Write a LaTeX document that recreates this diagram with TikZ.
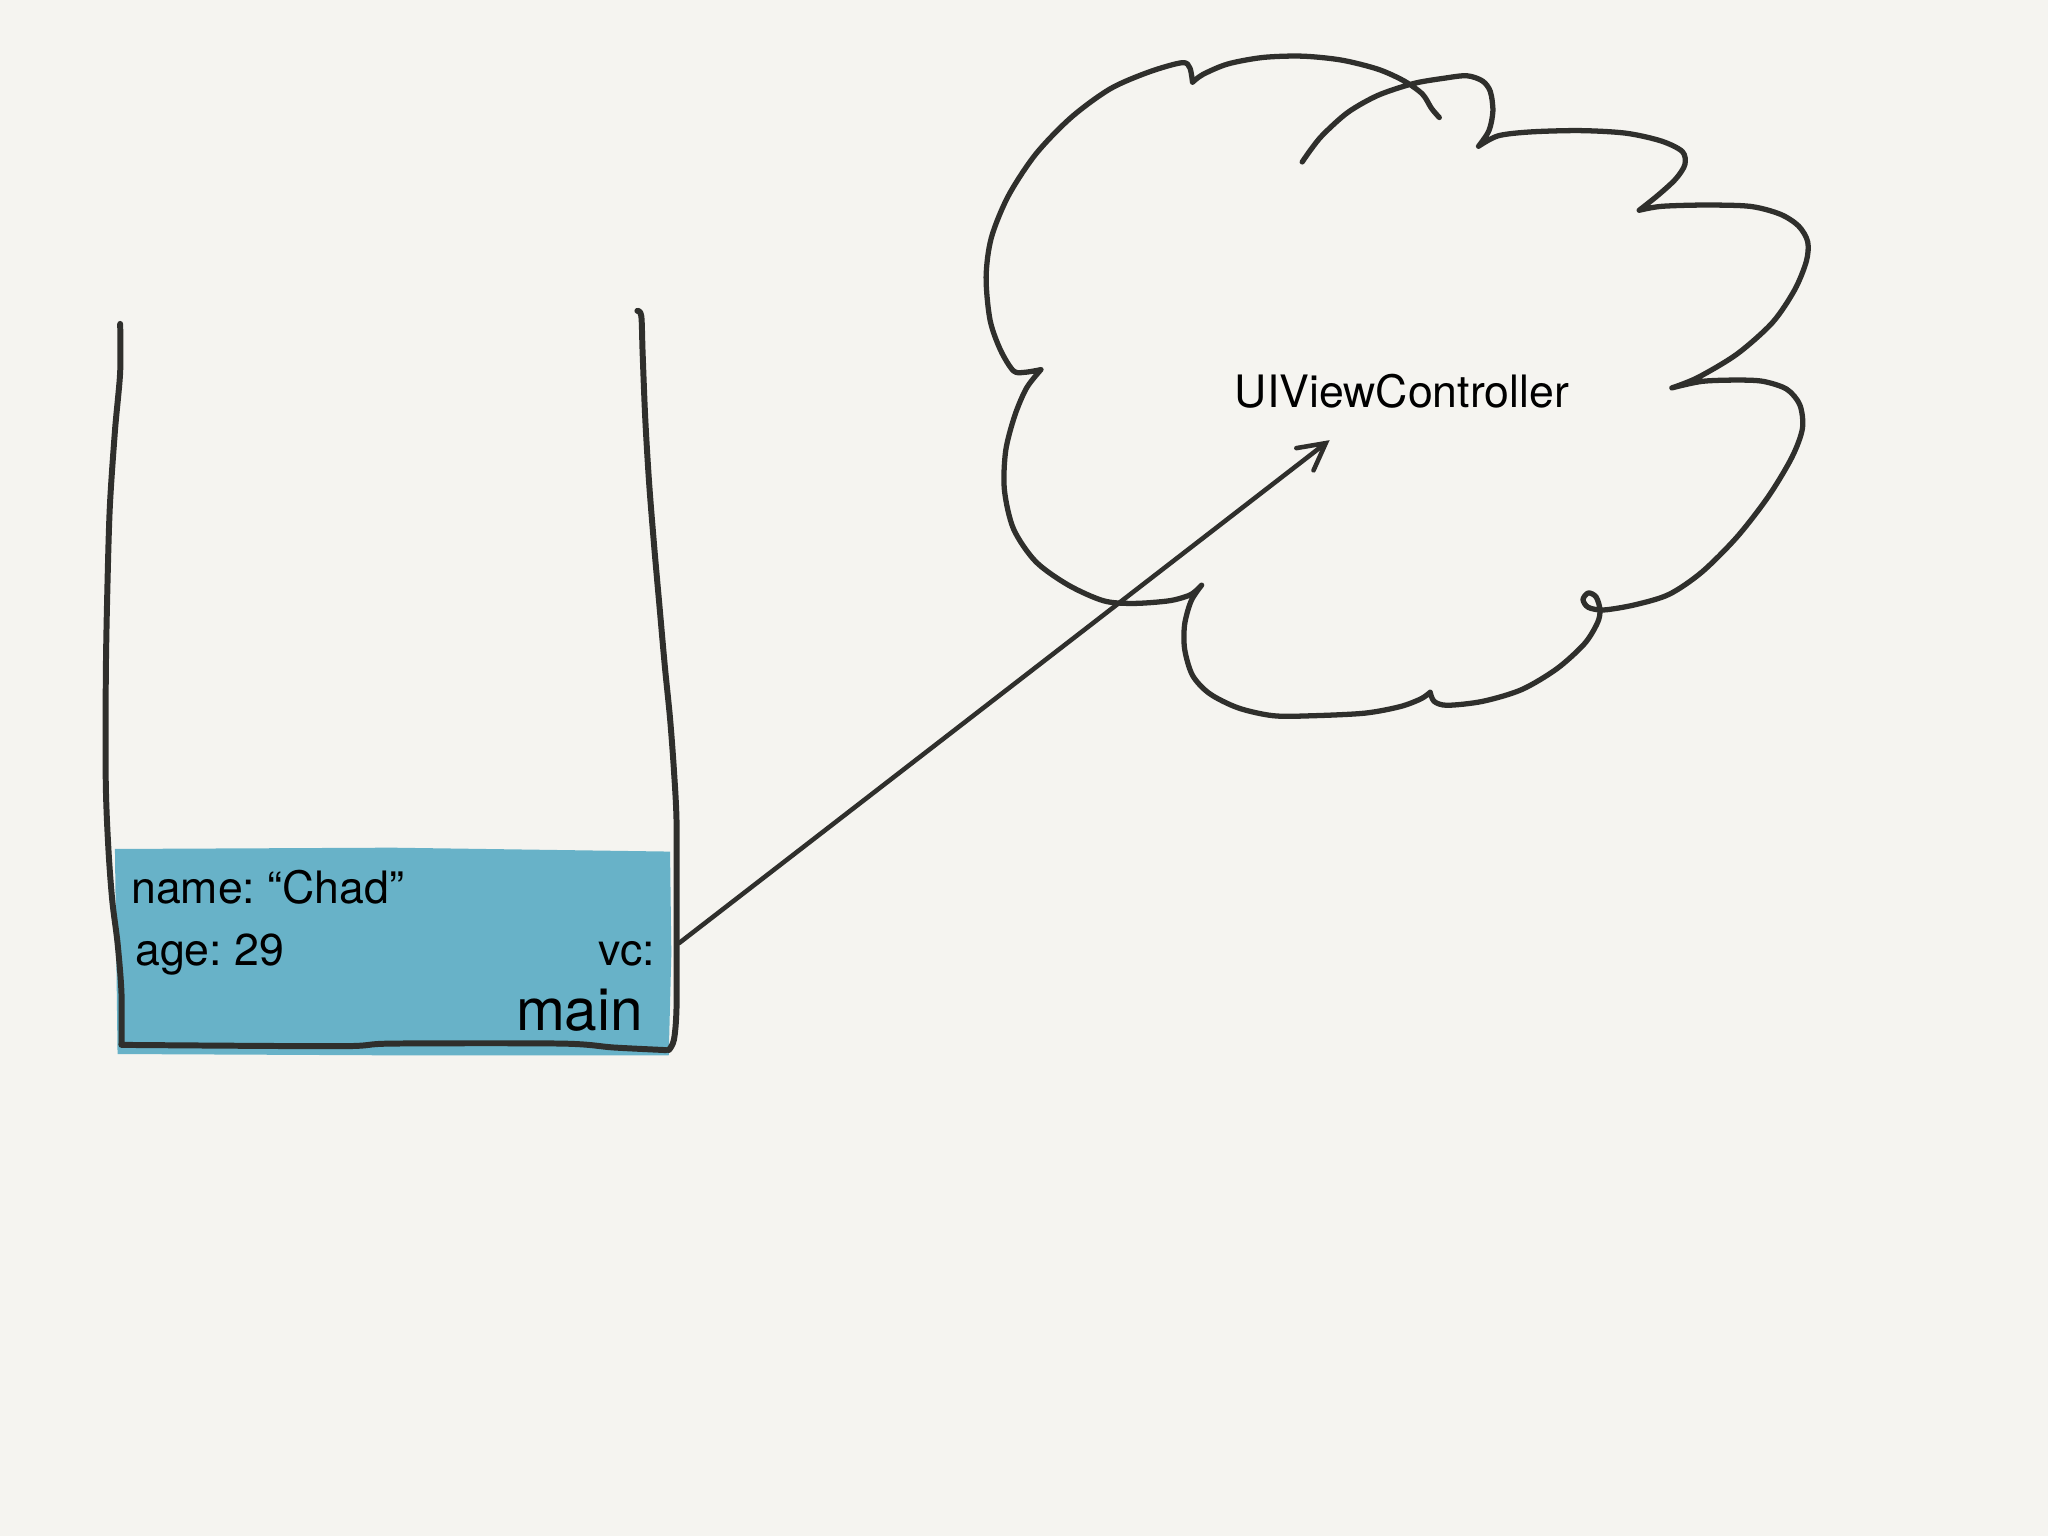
\documentclass[tikz,border=0pt]{standalone}
\usepackage{fontspec}
\setmainfont{TeX Gyre Heros}
\frenchspacing
\usetikzlibrary{arrows.meta}
\definecolor{paper}{HTML}{F5F4F0}
\definecolor{slot}{HTML}{68B2C8}
\definecolor{ink}{HTML}{2F2F2C}
\begin{document}
\begin{tikzpicture}[x=0.013061cm, y=-0.013061cm,
  wall/.style={draw=ink, line width=1.7pt, line cap=round, line join=round},
  puff/.style={draw=ink, line width=1.5pt, line cap=round, line join=round},
  lbl/.style={inner sep=0pt, font=\fontsize{12.7}{15}\selectfont},
  ref/.style={draw=ink, line width=1.3pt, line cap=round, -{Straight Barb[length=7.5pt,width=8pt,line cap=round]}}]
    \fill[paper] (0,0) rectangle (1568,1176);
    \fill[slot] (88,650) -- (300,649) -- (513,652) -- (514,730) -- (512,808) -- (300,808) -- (90,807) -- cycle;

    \node[lbl, anchor=base west] (name) at (100,692) {name: “Chad”};
    \node[lbl, anchor=base west] (age) at (103,739) {age: 29};
    \node[lbl, anchor=base east] (vc) at (502,739) {vc:};
    \node[lbl, anchor=base east, font=\fontsize{16.7}{20}\selectfont] (main) at (493,789) {main};
    \node[lbl, anchor=base west] (cls) at (945,312) {UIViewController};
    \coordinate (vcptr) at (520,722);
    \coordinate (vcend) at (1018,337);

    \draw[wall] plot[smooth] coordinates {(92,248) (92,285) (88,330) (84,390) (82,460) (81,520) (81,600) (83,650) (86,690) (90,722) (93,760) (93,800)}
      plot[smooth] coordinates {(93,800) (260,801) (300,799) (430,799) (470,802) (510,804)};
    \draw[wall] plot[smooth] coordinates {(488,238) (491,242) (492,270) (494,320) (497,370) (501,420) (505,465) (509,510) (513,550) (516,590) (518,630) (518,700) (518,770) (516,796) (512,804)};

    \draw[puff] plot[smooth] coordinates {(913,63) (911,52) (905,48) (880,55) (850,68) (820,90) (793,118) (772,150) (759,182) (755,212) (758,245) (766,268) (776,284) (785,285) (797,283)}
      plot[smooth] coordinates {(797,283) (786,297) (777,318) (770,345) (769,375) (776,405) (793,430) (818,448) (845,460) (868,462) (895,460) (910,456) (916,452) (920,448)}
      plot[smooth] coordinates {(920,448) (912,460) (907,478) (907,497) (913,517) (926,531) (948,542) (975,548) (1005,548) (1045,546) (1072,541) (1088,535) (1095,530)}
      plot[smooth] coordinates {(1095,530) (1098,537) (1108,540) (1135,537) (1165,528) (1192,512) (1213,493) (1223,477) (1225,467) (1222,457) (1216,454) (1212,459) (1216,465) (1228,467) (1252,463) (1278,455) (1303,438) (1330,411) (1354,380) (1372,350) (1380,328) (1378,310) (1368,298) (1350,292) (1330,291) (1303,292) (1280,297)}
      plot[smooth] coordinates {(1280,297) (1300,289) (1330,271) (1357,247) (1374,222) (1383,200) (1384,185) (1377,173) (1363,164) (1340,158) (1305,157) (1272,158) (1255,161)}
      plot[smooth] coordinates {(1255,161) (1270,149) (1283,137) (1290,126) (1288,116) (1272,108) (1245,102) (1210,100) (1172,101) (1147,104) (1132,112)}
      plot[smooth] coordinates {(1132,112) (1140,100) (1143,85) (1141,70) (1135,62) (1123,58) (1105,60) (1082,64) (1055,73) (1032,86) (1013,103) (1004,114) (997,124)}
      plot[smooth] coordinates {(913,63) (921,57) (940,49) (967,44) (997,43) (1027,46) (1055,53) (1075,62) (1089,72) (1096,83) (1102,90)};

    \draw[ref] (vcptr) -- (vcend);
\end{tikzpicture}
\end{document}
